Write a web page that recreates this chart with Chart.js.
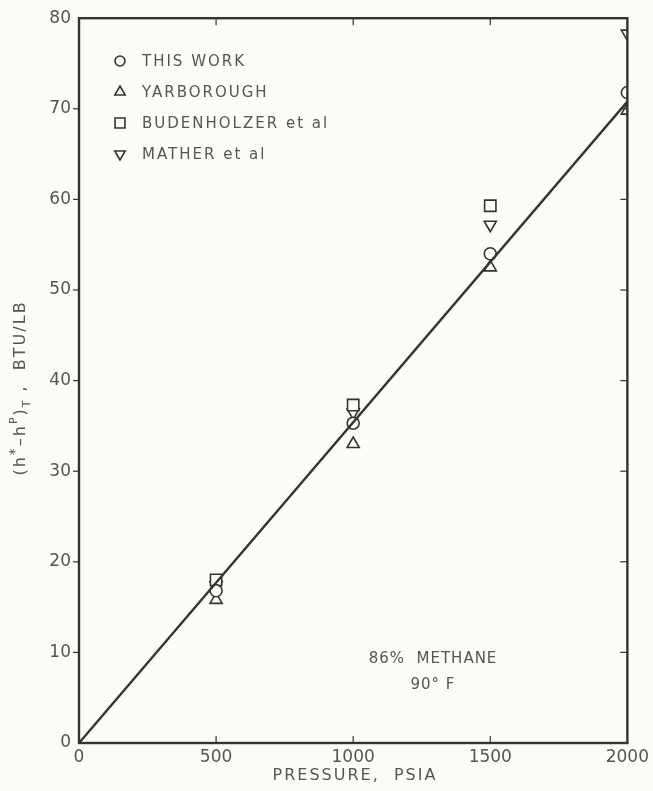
<!DOCTYPE html>
<html>
<head>
<meta charset="utf-8">
<script src="https://cdn.jsdelivr.net/npm/chart.js@4/dist/chart.umd.min.js"></script>
<style>
  html, body { margin: 0; padding: 0; background: #fbfbf8; }
  #wrap { width: 653px; height: 791px; }
</style>
</head>
<body>
<div id="wrap"><canvas id="c" width="653" height="791"></canvas></div>
<script>
// pressure levels (psia)
const pressures = [500, 1000, 1500, 2000];

// (h* - hP)T, BTU/LB for each source
const thisWork    = [16.8, 35.3, 54.0, 71.8];
const yarborough  = [15.8, 33.0, 52.5, 69.8];
const budenholzer = [18.0, 37.3, 59.3, null];
const mather      = [17.4, 36.5, 57.2, 78.3];

// fitted straight line
const lineX = [0, 2000];
const lineY = [0, 70.8];

const xTicks = [0, 500, 1000, 1500, 2000];
const yTicks = [0, 10, 20, 30, 40, 50, 60, 70, 80];

const ink = "#333333";
const textInk = "#555555";
const paper = "#fbfbf8";
const font = "'DejaVu Sans', sans-serif";

// marker size per style so they all look about the same width
const markerRadius = { circle: 6, triangle: 7, rect: 8 };

function pts(ys) {
    return pressures.map((p, i) => ({ x: p, y: ys[i] })).filter(d => d.y !== null);
}

function markerSet(label, ys, style, rot) {
    return {
        type: "scatter",
        label: label,
        data: pts(ys),
        pointStyle: style,
        rotation: rot || 0,
        pointRadius: markerRadius[style],
        borderColor: ink,
        backgroundColor: paper,
        borderWidth: 1.6
    };
}

const legendItems = [
    { text: "THIS WORK", style: "circle", rot: 0 },
    { text: "YARBOROUGH", style: "triangle", rot: 0 },
    { text: "BUDENHOLZER et al", style: "rect", rot: 0 },
    { text: "MATHER et al", style: "triangle", rot: 180 }
];

// frame, legend, notes and axis titles drawn on the canvas
const extras = {
    id: "extras",
    afterDraw(chart) {
        const ctx = chart.ctx;
        const area = chart.chartArea;
        const xs = chart.scales.x, ys = chart.scales.y;
        ctx.save();

        // frame
        ctx.strokeStyle = ink;
        ctx.lineWidth = 2.4;
        ctx.strokeRect(area.left, area.top, area.right - area.left, area.bottom - area.top);

        // ticks
        ctx.lineWidth = 1.2;
        xTicks.slice(1, -1).forEach(v => {
            const px = xs.getPixelForValue(v);
            ctx.beginPath(); ctx.moveTo(px, area.bottom); ctx.lineTo(px, area.bottom - 7); ctx.stroke();
            ctx.beginPath(); ctx.moveTo(px, area.top); ctx.lineTo(px, area.top + 7); ctx.stroke();
        });
        yTicks.slice(1, -1).forEach(v => {
            const py = ys.getPixelForValue(v);
            ctx.beginPath(); ctx.moveTo(area.left - 6, py); ctx.lineTo(area.left, py); ctx.stroke();
            ctx.beginPath(); ctx.moveTo(area.right, py); ctx.lineTo(area.right - 7, py); ctx.stroke();
        });

        // legend
        ctx.font = "15px " + font;
        ctx.letterSpacing = "2px";
        ctx.textBaseline = "middle";
        legendItems.forEach((it, i) => {
            const y = 61 + i * 31;
            ctx.strokeStyle = ink;
            ctx.fillStyle = paper;
            ctx.lineWidth = 1.6;
            const r = markerRadius[it.style] - 1;
            Chart.helpers.drawPoint(ctx, { pointStyle: it.style, rotation: it.rot, radius: r, borderWidth: 1.6 }, 120, y);
            ctx.fillStyle = textInk;
            ctx.fillText(it.text, 142, y + 1);
        });

        // note
        ctx.fillStyle = textInk;
        ctx.textAlign = "center";
        ctx.letterSpacing = "1px";
        ctx.fillText("86%  METHANE", 433, 659);
        ctx.fillText("90° F", 433, 685);

        // x axis title
        ctx.letterSpacing = "2px";
        ctx.font = "16px " + font;
        ctx.fillText("PRESSURE,  PSIA", 355, 776);

        // y axis title with super/subscripts
        ctx.translate(21, 388);
        ctx.rotate(-Math.PI / 2);
        ctx.textAlign = "left";
        const parts = [
            { t: "(h", dy: 0, s: 16 },
            { t: "*", dy: -6, s: 14 },
            { t: "\u2013h", dy: 0, s: 16 },
            { t: "P", dy: -7, s: 11 },
            { t: ")", dy: 0, s: 16 },
            { t: "T", dy: 6, s: 11 },
            { t: " ,  BTU/LB", dy: 0, s: 16 }
        ];
        let total = 0;
        parts.forEach(p => { ctx.font = p.s + "px " + font; total += ctx.measureText(p.t).width; });
        let cx = -total / 2;
        parts.forEach(p => {
            ctx.font = p.s + "px " + font;
            ctx.fillText(p.t, cx, p.dy);
            cx += ctx.measureText(p.t).width;
        });
        ctx.restore();
    }
};

new Chart(document.getElementById("c"), {
    data: {
        datasets: [
            {
                type: "line",
                label: "fit",
                data: lineX.map((x, i) => ({ x: x, y: lineY[i] })),
                borderColor: ink,
                borderWidth: 2.4,
                pointRadius: 0
            },
            markerSet("THIS WORK", thisWork, "circle"),
            markerSet("YARBOROUGH", yarborough, "triangle"),
            markerSet("BUDENHOLZER et al", budenholzer, "rect"),
            markerSet("MATHER et al", mather, "triangle", 180)
        ]
    },
    options: {
        responsive: false,
        animation: false,
        layout: { padding: { top: 17, right: 21, left: 0, bottom: 0 } },
        plugins: { legend: { display: false }, tooltip: { enabled: false } },
        scales: {
            x: {
                type: "linear",
                min: 0, max: 2000,
                afterBuildTicks: s => { s.ticks = xTicks.map(v => ({ value: v })); },
                afterFit: s => { s.height = 48; },
                grid: { display: false, drawTicks: false },
                border: { display: false },
                ticks: { color: textInk, font: { family: font, size: 17 }, padding: 4, maxRotation: 0,
                         callback: v => String(v) }
            },
            y: {
                type: "linear",
                min: 0, max: 80,
                afterBuildTicks: s => { s.ticks = yTicks.map(v => ({ value: v })); },
                afterFit: s => { s.width = 79; },
                grid: { display: false, drawTicks: false },
                border: { display: false },
                ticks: { color: textInk, font: { family: font, size: 17 }, padding: 8,
                         callback: v => String(v) }
            }
        }
    },
    plugins: [extras]
});
</script>
</body>
</html>
